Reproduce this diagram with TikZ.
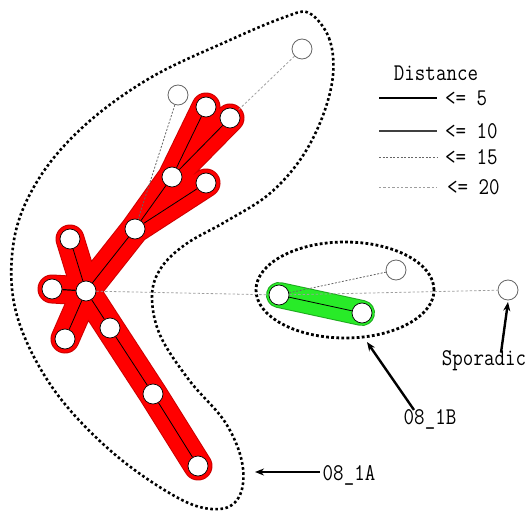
\documentclass[tikz,border=0pt]{standalone}
\usepackage{fontspec}
\usepackage{graphicx}
\usetikzlibrary{shapes.geometric,arrows.meta,backgrounds}
\newcommand\lbltxt[1]{\scalebox{0.85}[1]{\fontsize{24}{24}\selectfont\ttfamily #1}}
\begin{document}
\begin{tikzpicture}[x=1pt,y=-1pt,
  nd/.style={circle,draw=black,fill=white,line width=0.7pt,minimum size=20pt,inner sep=0pt},
  gnd/.style={nd,draw=black!60,line width=0.8pt},
  e5/.style={draw=black,line width=0.8pt},
  d15/.style={draw=black!60,line width=0.8pt,dash pattern=on 2pt off 1.6pt},
  d20/.style={draw=black!38,line width=0.8pt,dash pattern=on 2.4pt off 2pt},
  redout/.style={line width=29pt,line cap=round,line join=round,draw=red!80!black},
  redband/.style={line width=27pt,line cap=round,line join=round,draw=red},
  greenout/.style={line width=26pt,line cap=round,draw={rgb,255:red,30;green,170;blue,30}},
  greenband/.style={line width=24pt,line cap=round,draw={rgb,255:red,40;green,235;blue,40}},
  bigdots/.style={draw=black,line width=2.6pt,dash pattern=on 2.6pt off 2.5pt},
  lbl/.style={inner sep=1pt},
  arr/.style={draw=black,line width=2.4pt,-{Stealth[length=9pt,width=7pt]}}
]
\useasboundingbox (0,0) rectangle (527,513);

% nodes
\node[gnd] (tg) at (302,49) {};
\node[gnd] (g2) at (178,95) {};
\node[nd] (a1) at (206,107) {};
\node[nd] (a2) at (230,118) {};
\node[nd] (b) at (172,177) {};
\node[nd] (c) at (206,183) {};
\node[nd] (d) at (135,229) {};
\node[nd] (e) at (70,239) {};
\node[nd] (hub) at (86,291) {};
\node[nd] (l) at (52,289) {};
\node[nd] (ll) at (65,339) {};
\node[nd] (f) at (110,328) {};
\node[nd] (g) at (153,394) {};
\node[nd] (h) at (198,466) {};
\node[nd] (gr1) at (279,295) {};
\node[nd] (gr2) at (362,313) {};
\node[gnd] (g3) at (396,270) {};
\node[gnd] (sp) at (508,290) {};

\begin{scope}[on background layer]
  \foreach \s in {redout,redband}{
    \draw[\s] (hub.center) -- (e.center) (hub.center) -- (l.center) (hub.center) -- (ll.center)
      (hub.center) -- (f.center) -- (g.center) -- (h.center)
      (hub.center) -- (d.center) -- (b.center) -- (a1.center)
      (b.center) -- (a2.center) (d.center) -- (c.center);
  }
  \draw[greenout] (gr1.center) -- (gr2.center);
  \draw[greenband] (gr1.center) -- (gr2.center);
  % group 08_1A outline
  \draw[bigdots] plot[smooth cycle, tension=0.6] coordinates {
    (309,13) (329,38) (333,75) (322,118) (300,160) (268,195) (225,222) (186,244)
    (161,268) (152,296) (160,335) (189,380) (225,422) (242,462) (240,495) (220,509)
    (180,499) (112,452) (52,387) (16,312) (14,240) (38,180) (84,126) (150,78)
    (230,40) (285,17)};
\end{scope}

% group 08_1B outline
\node[ellipse,draw=black,line width=2.8pt,dash pattern=on 2.8pt off 2.3pt,
  minimum width=178pt,minimum height=96pt,inner sep=0pt] (eb) at (345,290) {};

% edges within groups
\draw[e5] (hub) -- (e);
\draw[e5,line width=1.2pt] (hub) -- (l);
\draw[e5] (hub) -- (ll);
\draw[e5] (hub) -- (f);
\draw[e5] (f) -- (g);
\draw[e5] (g) -- (h);
\draw[e5] (hub) -- (d);
\draw[e5] (d) -- (b);
\draw[e5] (b) -- (a1);
\draw[e5] (b) -- (a2);
\draw[e5] (d) -- (c);
\draw[e5] (gr1) -- (gr2);

% weak links
\draw[d15] (g2) -- (d);
\draw[d20] (tg) -- (a2);
\draw[d20] (hub) -- (gr1);
\draw[d15] (gr1) -- (g3);
\draw[d20] (gr1) -- (sp);

% legend
\node[lbl] (leg) at (436,73) {\lbltxt{Distance}};
\coordinate (l5a) at (379,98);  \coordinate (l5b) at (437,98);
\coordinate (l10a) at (379,131); \coordinate (l10b) at (437,131);
\coordinate (l15a) at (379,157); \coordinate (l15b) at (437,157);
\coordinate (l20a) at (379,187); \coordinate (l20b) at (437,187);
\draw[draw=black,line width=2pt] (l5a) -- (l5b);
\draw[draw=black!75,line width=1.1pt] (l10a) -- (l10b);
\draw[d15] (l15a) -- (l15b);
\draw[d20] (l20a) -- (l20b);
\node[lbl,anchor=west] (t5) at (444,98) {\lbltxt{<= 5}};
\node[lbl,anchor=west] (t10) at (444,131) {\lbltxt{<= 10}};
\node[lbl,anchor=west] (t15) at (444,157) {\lbltxt{<= 15}};
\node[lbl,anchor=west] (t20) at (446,187) {\lbltxt{<= 20}};

% labels and arrows
\node[lbl] (la) at (349,475) {\lbltxt{08\_1A}};
\node[lbl] (lb) at (430,419) {\lbltxt{08\_1B}};
\node[lbl] (ls) at (484,361) {\lbltxt{Sporadic}};
\coordinate (aa) at (255,472);
\coordinate (ab) at (367,342);
\coordinate (as) at (508,302);
\draw[arr] ([xshift=-2pt,yshift=3pt]la.west) -- (aa);
\draw[arr] ([xshift=-16pt,yshift=-2pt]lb.north) -- (ab);
\draw[arr] ([xshift=17pt,yshift=-3pt]ls.north) -- (as);
\end{tikzpicture}
\end{document}
